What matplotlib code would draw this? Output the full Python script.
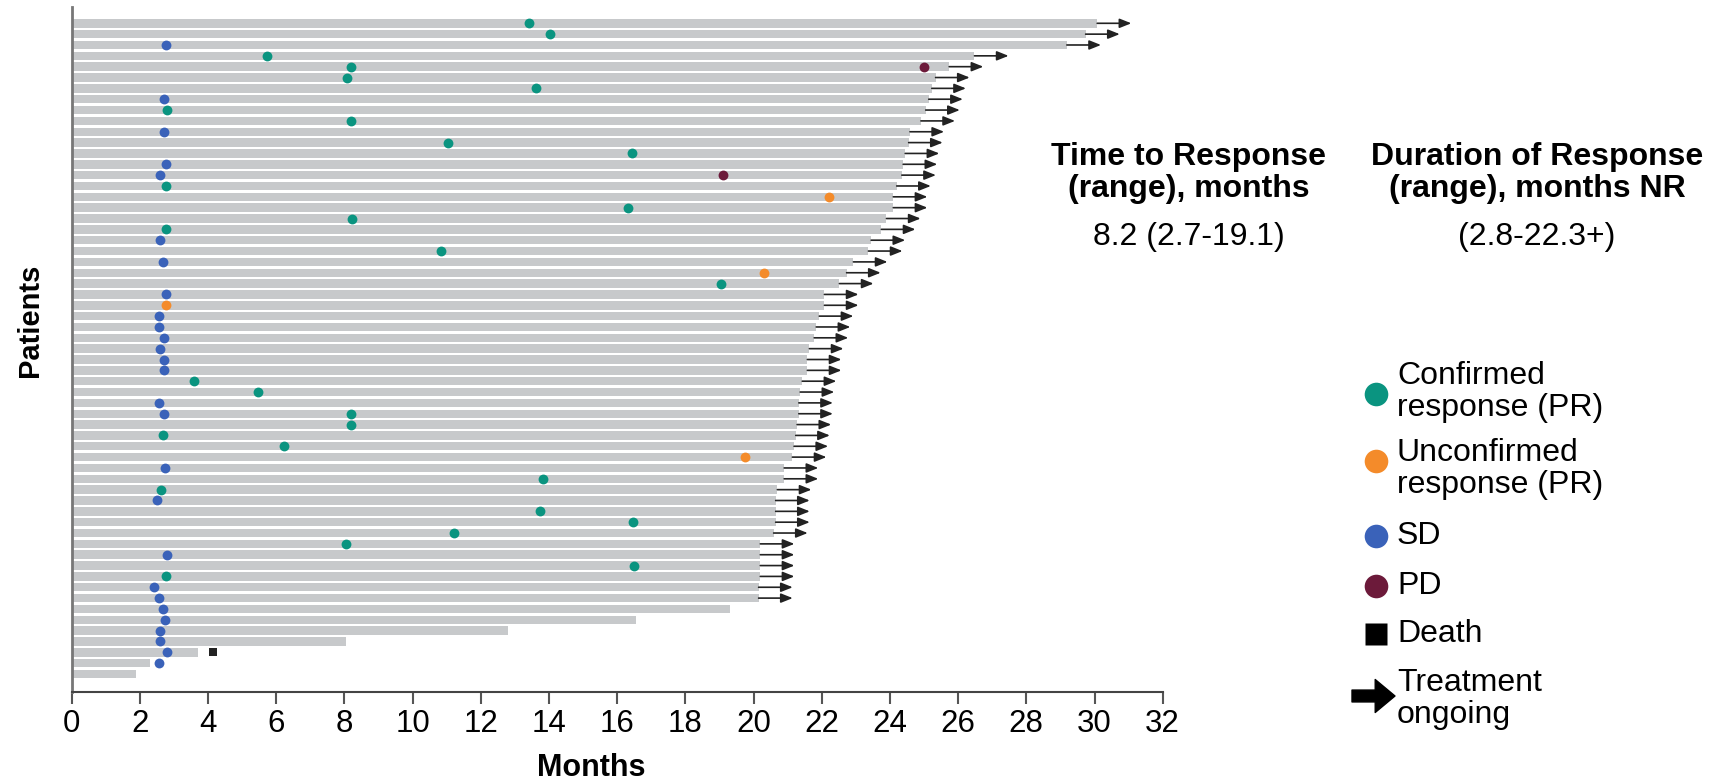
import matplotlib
matplotlib.use('Agg')
import matplotlib.pyplot as plt
import numpy as np

# bar lengths (months), top row first
bar_end = [30.08, 29.74, 29.19, 26.48, 25.74, 25.34, 25.23, 25.14, 25.05, 24.91,
           24.59, 24.55, 24.45, 24.39, 24.35, 24.20, 24.10, 24.10, 23.90, 23.75,
           23.45, 23.37, 22.93, 22.73, 22.52, 22.08, 22.08, 21.93, 21.84, 21.78,
           21.64, 21.58, 21.58, 21.43, 21.37, 21.33, 21.33, 21.28, 21.24, 21.19,
           21.14, 20.90, 20.90, 20.70, 20.65, 20.65, 20.65, 20.59, 20.20, 20.20,
           20.20, 20.20, 20.15, 20.15, 19.31, 16.55, 12.80, 8.05, 3.72, 2.30, 1.90]
n_ongoing = 54   # first 54 patients still on treatment

# events: (patient row, month)
conf_rows = [1, 2, 4, 5, 6, 7, 9, 10, 12, 13, 16, 18, 19, 20, 22, 25, 34, 35, 37, 38,
             39, 40, 43, 44, 46, 47, 48, 49, 51, 52]
conf_month = [13.43, 14.02, 5.73, 8.21, 8.07, 13.62, 2.81, 8.19, 11.05, 16.44, 2.76, 16.33,
              8.24, 2.76, 10.85, 19.05, 3.59, 5.47, 8.19, 8.19, 2.67, 6.24, 13.83, 2.62,
              13.75, 16.46, 11.22, 8.06, 16.49, 2.76]
unconf_rows = [17, 24, 27, 41]
unconf_month = [22.21, 20.30, 2.76, 19.75]
sd_rows = [3, 8, 11, 14, 15, 21, 23, 26, 28, 29, 30, 31, 32, 33, 36, 37, 42, 45, 50, 53,
           54, 55, 56, 57, 58, 59, 60]
sd_month = [2.76, 2.70, 2.70, 2.76, 2.60, 2.60, 2.69, 2.76, 2.56, 2.56, 2.70, 2.60, 2.70,
            2.70, 2.56, 2.70, 2.75, 2.51, 2.81, 2.43, 2.56, 2.69, 2.75, 2.60, 2.60, 2.81, 2.56]
pd_rows = [5, 15]
pd_month = [24.99, 19.11]
death_rows = [59]
death_month = [4.14]

xticks = list(range(0, 33, 2))

c_conf = '#0a9480'
c_unconf = '#f48b2a'
c_sd = '#3a62b9'
c_pd = '#6c1a3a'
c_bar = '#c7c9cb'

plt.rcParams['font.family'] = ['Liberation Sans', 'DejaVu Sans']

fig = plt.figure(figsize=(17.27, 7.83), dpi=100)
ax = fig.add_axes([71.5 / 1727, 91.3 / 783, 1091.2 / 1727, 684.4 / 783])

rows = np.arange(1, len(bar_end) + 1)
ax.barh(rows, bar_end, height=0.78, color=c_bar, zorder=1)

# treatment ongoing arrows
for r, e in zip(rows[:n_ongoing], bar_end[:n_ongoing]):
    ax.annotate('', xy=(e + 1.0, r), xytext=(e, r),
                arrowprops=dict(arrowstyle='-|>,head_length=0.7,head_width=0.28',
                                lw=1.2, color='#222222', shrinkA=0, shrinkB=0),
                zorder=2)

ax.scatter(conf_month, conf_rows, s=50, color=c_conf, zorder=3, linewidths=0)
ax.scatter(unconf_month, unconf_rows, s=50, color=c_unconf, zorder=3, linewidths=0)
ax.scatter(sd_month, sd_rows, s=50, color=c_sd, zorder=3, linewidths=0)
ax.scatter(pd_month, pd_rows, s=50, color=c_pd, zorder=3, linewidths=0)
ax.scatter(death_month, death_rows, s=40, color='#222222', marker='s', zorder=3, linewidths=0)

ax.set_xlim(0, 32)
ax.set_ylim(62.63, -0.475)
ax.set_xticks(xticks)
ax.set_xticklabels([str(t) for t in xticks], fontsize=22.5)
ax.set_yticks([])
ax.tick_params(axis='x', length=8.5, width=1.5, color='#555555', pad=4)
for s in ['top', 'right']:
    ax.spines[s].set_visible(False)
ax.spines['left'].set_color('#777777')
ax.spines['left'].set_linewidth(2)
ax.spines['bottom'].set_color('#444444')
ax.spines['bottom'].set_linewidth(1.5)

# overlay in pixel coordinates for labels, summary text and legend
ov = fig.add_axes([0, 0, 1, 1])
ov.set_xlim(0, 1727)
ov.set_ylim(783, 0)
ov.axis('off')

ov.text(591, 768, 'Months', ha='center', va='center', fontsize=22, fontweight='bold')
ov.text(30, 320, 'Patients', ha='center', va='center', rotation=90, fontsize=21,
        fontweight='bold')

ov.text(1189, 173, 'Time to Response\n(range), months', ha='center', va='center',
        fontsize=23, fontweight='bold', linespacing=1.1)
ov.text(1189, 237, '8.2 (2.7-19.1)', ha='center', va='center', fontsize=23)
ov.text(1537, 173, 'Duration of Response\n(range), months NR', ha='center', va='center',
        fontsize=23, fontweight='bold', linespacing=1.1)
ov.text(1537, 237, '(2.8-22.3+)', ha='center', va='center', fontsize=23)

leg_x = 1376
txt_x = 1397
fs = 23
ov.plot([leg_x], [394], 'o', ms=17, color=c_conf, mec='none')
ov.text(txt_x, 392, 'Confirmed\nresponse (PR)', va='center', fontsize=fs, linespacing=1.1)
ov.plot([leg_x], [461], 'o', ms=17, color=c_unconf, mec='none')
ov.text(txt_x, 469, 'Unconfirmed\nresponse (PR)', va='center', fontsize=fs, linespacing=1.1)
ov.plot([leg_x], [536], 'o', ms=17, color=c_sd, mec='none')
ov.text(txt_x, 536, 'SD', va='center', fontsize=fs)
ov.plot([leg_x], [586], 'o', ms=17, color=c_pd, mec='none')
ov.text(txt_x, 586, 'PD', va='center', fontsize=fs)
ov.plot([leg_x], [634], 's', ms=15.5, color='black', mec='none')
ov.text(txt_x, 634, 'Death', va='center', fontsize=fs)
ov.annotate('', xy=(1395, 696), xytext=(1352, 696),
            arrowprops=dict(arrowstyle='simple,head_length=0.75,head_width=1.25,tail_width=0.45',
                            color='black', mutation_scale=19, shrinkA=0, shrinkB=0))
ov.text(txt_x, 699, 'Treatment\nongoing', va='center', fontsize=fs, linespacing=1.1)

fig.savefig('out.png', dpi=100)
